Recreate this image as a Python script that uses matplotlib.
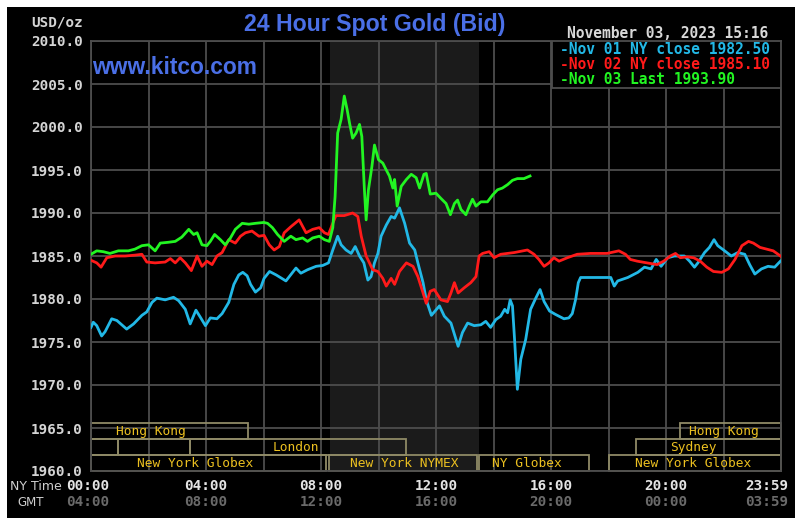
import matplotlib
matplotlib.use("Agg")
import matplotlib.pyplot as plt
from matplotlib.patches import Rectangle

# ---------------- data (hours since 00:00 NY time, USD/oz) ----------------
nov01_t = [0.0, 0.08, 0.2, 0.37, 0.49, 0.72, 0.9, 1.24, 1.48, 1.77, 1.94, 2.12, 2.29, 2.58,
           2.87, 3.05, 3.28, 3.45, 3.65, 3.8, 3.98, 4.15, 4.38, 4.56, 4.79, 4.97, 5.14, 5.28,
           5.43, 5.55, 5.72, 5.9, 6.02, 6.21, 6.44, 6.78, 7.13, 7.3, 7.53, 7.83, 8.06, 8.26,
           8.41, 8.58, 8.7, 8.87, 9.05, 9.19, 9.34, 9.49, 9.63, 9.74, 9.86, 9.98, 10.09, 10.27,
           10.44, 10.56, 10.73, 10.91, 11.08, 11.26, 11.37, 11.55, 11.66, 11.84, 12.12, 12.29,
           12.52, 12.77, 12.92, 13.1, 13.33, 13.56, 13.73, 13.9, 14.08, 14.25, 14.39, 14.49,
           14.58, 14.66, 14.74, 14.83, 14.95, 15.12, 15.29, 15.47, 15.62, 15.76, 15.95, 16.16,
           16.45, 16.62, 16.74, 16.86, 16.95, 17.03, 18.08, 18.2, 18.32, 18.67, 19.02, 19.25,
           19.48, 19.66, 19.83, 20.06, 20.29, 20.64, 20.82, 20.99, 21.11, 21.34, 21.51, 21.67,
           21.8, 22.04, 22.27, 22.5, 22.74, 22.91, 23.09, 23.32, 23.55, 23.78, 23.98]
nov01_v = [1976.7, 1977.3, 1976.9, 1975.7, 1976.2, 1977.7, 1977.5, 1976.5, 1977.1, 1978.1, 1978.5,
           1979.6, 1980.1, 1979.9, 1980.2, 1979.8, 1978.8, 1977.1, 1978.7, 1977.9, 1976.9, 1977.8,
           1977.7, 1978.3, 1979.6, 1981.7, 1982.8, 1983.1, 1982.7, 1981.7, 1980.8, 1981.3, 1982.4,
           1983.2, 1982.8, 1982.1, 1983.6, 1983.0, 1983.4, 1983.8, 1983.9, 1984.2, 1985.7, 1987.3,
           1986.3, 1985.7, 1985.3, 1986.1, 1985.0, 1984.2, 1982.2, 1982.6, 1984.2, 1985.3, 1987.3,
           1988.6, 1989.6, 1989.4, 1990.6, 1988.8, 1986.5, 1985.7, 1984.2, 1981.9, 1979.9, 1978.1,
           1979.2, 1978.0, 1977.2, 1974.5, 1976.1, 1977.2, 1976.9, 1977.0, 1977.4, 1976.7, 1977.6,
           1978.0, 1978.8, 1978.4, 1979.9, 1979.2, 1974.9, 1969.5, 1973.0, 1975.3, 1978.8, 1980.1,
           1981.1, 1979.7, 1978.6, 1978.2, 1977.7, 1977.8, 1978.3, 1980.0, 1981.9, 1982.5, 1982.5,
           1981.5, 1982.1, 1982.5, 1983.1, 1983.7, 1983.5, 1984.6, 1983.8, 1984.8, 1985.0, 1985.0,
           1984.4, 1983.7, 1984.2, 1985.4, 1986.0, 1986.9, 1986.2, 1985.6, 1985.0, 1985.4, 1985.2,
           1984.0, 1982.9, 1983.5, 1983.8, 1983.7, 1984.4]

nov02_t = [0.0, 0.2, 0.35, 0.55, 0.84, 1.19, 1.53, 1.77, 1.94, 2.23, 2.58, 2.76, 2.93, 3.1, 3.28,
           3.49, 3.69, 3.86, 4.03, 4.21, 4.38, 4.56, 4.79, 5.02, 5.2, 5.37, 5.6, 5.84, 6.02, 6.2,
           6.37, 6.55, 6.72, 6.95, 7.24, 7.48, 7.71, 7.94, 8.12, 8.26, 8.41, 8.52, 8.81, 9.1, 9.28,
           9.4, 9.57, 9.8, 9.98, 10.15, 10.27, 10.44, 10.56, 10.73, 10.97, 11.2, 11.37, 11.55,
           11.66, 11.8, 11.94, 12.17, 12.4, 12.52, 12.64, 12.77, 12.98, 13.21, 13.39, 13.5, 13.62,
           13.85, 14.02, 14.25, 14.72, 15.18, 15.41, 15.58, 15.76, 15.93, 16.1, 16.28, 16.57,
           16.91, 17.37, 17.95, 18.36, 18.59, 18.76, 19.0, 19.34, 19.69, 19.92, 20.15, 20.33,
           20.5, 20.73, 20.96, 21.19, 21.42, 21.65, 21.94, 22.17, 22.4, 22.64, 22.87, 23.04,
           23.27, 23.5, 23.73, 23.98]
nov02_v = [1984.5, 1984.2, 1983.7, 1984.8, 1985.0, 1985.0, 1985.1, 1985.2, 1984.3, 1984.2, 1984.3,
           1984.7, 1984.2, 1984.8, 1984.2, 1983.3, 1985.0, 1983.8, 1984.4, 1984.0, 1985.0, 1985.4,
           1986.9, 1986.5, 1987.3, 1987.7, 1987.9, 1987.3, 1987.4, 1986.3, 1985.7, 1986.1, 1987.7,
           1988.4, 1989.2, 1987.7, 1988.1, 1988.3, 1987.7, 1987.5, 1988.8, 1989.7, 1989.7, 1990.0,
           1989.6, 1987.3, 1985.0, 1983.4, 1983.2, 1982.4, 1981.5, 1982.4, 1981.7, 1983.2, 1984.2,
           1983.8, 1982.6, 1980.7, 1979.5, 1980.9, 1981.1, 1979.9, 1979.7, 1980.7, 1981.9, 1980.7,
           1981.3, 1981.9, 1982.6, 1985.0, 1985.3, 1985.5, 1984.8, 1985.2, 1985.4, 1985.7, 1985.2,
           1984.6, 1983.8, 1984.2, 1984.8, 1984.4, 1984.8, 1985.2, 1985.3, 1985.3, 1985.6, 1985.2,
           1984.6, 1984.4, 1984.2, 1984.0, 1984.4, 1985.0, 1985.3, 1984.8, 1984.9, 1984.8, 1984.4,
           1983.7, 1983.2, 1983.1, 1983.5, 1984.6, 1986.2, 1986.7, 1986.5, 1986.0, 1985.8, 1985.6,
           1985.0]

nov03_t = [0.0, 0.2, 0.43, 0.66, 0.95, 1.3, 1.53, 1.77, 2.0, 2.23, 2.41, 2.7, 2.93, 3.16, 3.4,
           3.57, 3.69, 3.86, 4.03, 4.15, 4.3, 4.5, 4.67, 4.85, 5.02, 5.26, 5.49, 5.72, 6.01, 6.14,
           6.31, 6.49, 6.72, 6.95, 7.13, 7.36, 7.53, 7.71, 7.94, 8.12, 8.29, 8.41, 8.49, 8.58, 8.7,
           8.81, 8.91, 8.99, 9.1, 9.22, 9.34, 9.42, 9.51, 9.57, 9.65, 9.77, 9.86, 10.0, 10.15,
           10.27, 10.38, 10.5, 10.56, 10.65, 10.79, 10.97, 11.14, 11.31, 11.43, 11.58, 11.66,
           11.8, 12.0, 12.17, 12.35, 12.5, 12.64, 12.75, 12.87, 13.04, 13.16, 13.27, 13.39, 13.56,
           13.79, 13.97, 14.14, 14.31, 14.49, 14.66, 14.83, 15.06, 15.27]
nov03_v = [1985.2, 1985.6, 1985.5, 1985.3, 1985.6, 1985.6, 1985.8, 1986.2, 1986.3, 1985.6, 1986.5,
           1986.6, 1986.7, 1987.2, 1988.1, 1987.5, 1987.7, 1986.3, 1986.2, 1986.7, 1987.5, 1986.9,
           1986.3, 1987.1, 1988.1, 1988.8, 1988.7, 1988.8, 1988.9, 1988.8, 1988.3, 1987.5, 1986.7,
           1987.3, 1986.9, 1987.1, 1986.7, 1987.1, 1987.3, 1986.9, 1986.7, 1988.3, 1991.9, 1999.3,
           2000.9, 2003.6, 2002.0, 2000.5, 1998.7, 1999.3, 2000.3, 1998.9, 1992.7, 1989.2, 1992.7,
           1995.4, 1997.9, 1996.2, 1995.8, 1995.0, 1994.3, 1992.9, 1993.9, 1990.8, 1993.1, 1993.9,
           1994.5, 1994.1, 1992.9, 1994.5, 1994.6, 1992.2, 1992.3, 1991.7, 1991.1, 1989.8, 1991.1,
           1991.5, 1990.4, 1989.8, 1990.8, 1991.6, 1990.8, 1991.3, 1991.3, 1992.1, 1992.7, 1992.9,
           1993.3, 1993.8, 1994.0, 1994.0, 1994.3]

legend_labels = ["Nov 01 NY close 1982.50", "Nov 02 NY close 1985.10", "Nov 03 Last 1993.90"]
y_ticks = [1960, 1965, 1970, 1975, 1980, 1985, 1990, 1995, 2000, 2005, 2010]
ny_hours = [0, 4, 8, 12, 16, 20]
ny_labels = ["00:00", "04:00", "08:00", "12:00", "16:00", "20:00"]
gmt_labels = ["04:00", "08:00", "12:00", "16:00", "20:00", "00:00"]

# sessions: (row, start, end, label, label_center)
sessions = [
    (2, 0.0, 5.45, "Hong Kong", 2.08),
    (2, 20.47, 24.0, "Hong Kong", 22.03),
    (1, 0.0, 0.94, "", 0),
    (1, 0.94, 3.45, "", 0),
    (1, 3.45, 10.94, "London", 7.13),
    (1, 18.94, 24.0, "Sydney", 20.96),
    (0, 0.0, 8.17, "New York Globex", 3.62),
    (0, 8.28, 13.42, "New York NYMEX", 10.88),
    (0, 13.49, 17.31, "NY Globex", 15.15),
    (0, 18.0, 24.0, "New York Globex", 20.96),
]

# ---------------- figure ----------------
W, H = 807, 525
fig = plt.figure(figsize=(W / 100, H / 100), dpi=100, facecolor="white")
fig.patches.append(Rectangle((7 / W, 7 / H), (795 - 7) / W, (518 - 7) / H,
                             transform=fig.transFigure, facecolor="black",
                             edgecolor="none", zorder=-10))

L, R, T, B = 91, 781, 41, 471
ax = fig.add_axes([L / W, (H - B) / H, (R - L) / W, (B - T) / H])
ax.set_zorder(1)
ax.set_facecolor("black")
ax.set_xlim(0, 24)
ax.set_ylim(1960, 2010)

grid_c = "#4d4d4d"
ax.axvspan(8.33, 13.5, color="#1b1b1b", zorder=0, lw=0)
ax.set_xticks(range(0, 25, 2))
ax.set_yticks(y_ticks)
ax.grid(True, color=grid_c, lw=1.3, zorder=1)
ax.set_axisbelow(True)
for s in ax.spines.values():
    s.set_color(grid_c)
    s.set_linewidth(1.3)
ax.tick_params(length=0, labelbottom=False)
mono = "DejaVu Sans Mono"
ax.set_yticklabels([f"{v:.1f}" for v in y_ticks], fontfamily=mono,
                   fontweight="bold", fontsize=10.3, color="#d4d4d4")
ax.tick_params(axis="y", pad=6)

# session boxes
row_h = 1.85
box_c = "#8f8a66"
txt_c = "#ecc020"
for row, s0, s1, lab, cx in sessions:
    y0 = 1960 + row * row_h
    ax.add_patch(Rectangle((s0, y0), s1 - s0, row_h, fill=False,
                           edgecolor=box_c, lw=1.3, zorder=2, clip_on=False))
    if lab:
        ax.text(cx, y0 + row_h / 2, lab, ha="center", va="center",
                fontfamily=mono, fontsize=9.3, color=txt_c, zorder=3)

# price lines
ax.plot(nov01_t, nov01_v, color="#22b8e6", lw=2.0, zorder=4)
ax.plot(nov02_t, nov02_v, color="#ff1a1a", lw=2.0, zorder=5)
ax.plot(nov03_t, nov03_v, color="#22f522", lw=2.0, zorder=6)

# x labels
xt = ax.get_xaxis_transform()
for h, a, g in zip(ny_hours, ny_labels, gmt_labels):
    hx = h - 0.1 if h == 0 else h
    ax.text(hx, -0.035, a, transform=xt, ha="center", va="center",
            fontfamily=mono, fontweight="bold", fontsize=10.3, color="#e4e4e4")
    ax.text(hx, -0.072, g, transform=xt, ha="center", va="center",
            fontfamily=mono, fontweight="bold", fontsize=10.3, color="#6a6a6a")
ax.text(24.25, -0.035, "23:59", transform=xt, ha="right", va="center",
        fontfamily=mono, fontweight="bold", fontsize=10.3, color="#e4e4e4")
ax.text(24.25, -0.072, "03:59", transform=xt, ha="right", va="center",
        fontfamily=mono, fontweight="bold", fontsize=10.3, color="#6a6a6a")
fig.text(10 / W, 1 - 486 / H, "NY Time", ha="left", va="center",
         fontfamily="DejaVu Sans", fontsize=9, color="#cfcfcf")
fig.text(31 / W, 1 - 502 / H, "GMT", ha="center", va="center",
         fontfamily="DejaVu Sans", fontsize=8.5, color="#cfcfcf")

# texts on top
fig.text(83 / W, 1 - 23 / H, "USD/oz", ha="right", va="center",
         fontfamily=mono, fontweight="bold", fontsize=10.3, color="#d4d4d4")
blue = "#4a6fe6"
fig.text(375 / W, 1 - 24 / H, "24 Hour Spot Gold (Bid)", ha="center", va="center",
         fontfamily="Liberation Sans", fontweight="bold", fontsize=16.7, color=blue)
fig.text(92 / W, 1 - 68 / H, "www.kitco.com", ha="left", va="center",
         fontfamily="Liberation Sans", fontweight="bold", fontsize=16.4, color=blue,
         zorder=10)
fig.text(768 / W, 1 - 33 / H, "November 03, 2023 15:16", ha="right", va="center",
         fontfamily=mono, fontweight="bold", fontsize=10.5, color="#d8d8d8")

# legend box
lx0 = (551.7 - L) / (R - L)
ly0 = (B - 88.3) / (B - T)
ax.add_patch(Rectangle((lx0, ly0), 1 - lx0, 1 - ly0, transform=ax.transAxes,
                       facecolor="black", edgecolor=grid_c, lw=1.3, zorder=7))
leg_colors = ["#22b8e6", "#ff1a1a", "#22f522"]
leg_y = [49.3, 64.5, 80.0]
for lab, c, yy in zip(legend_labels, leg_colors, leg_y):
    ax.text((560 - L) / (R - L), (B - yy) / (B - T), "-" + lab, transform=ax.transAxes,
            ha="left", va="center", fontfamily=mono, fontweight="bold",
            fontsize=10.5, color=c, zorder=8)

fig.savefig("out.png", dpi=100, facecolor="white")
